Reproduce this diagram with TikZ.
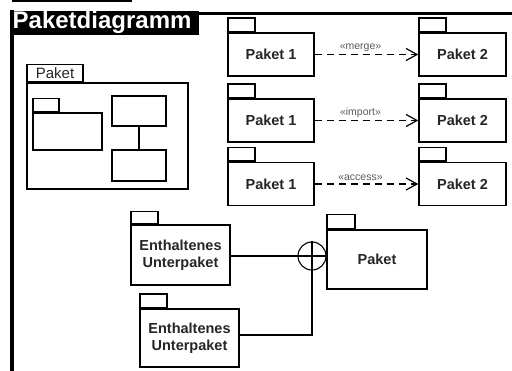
\documentclass[tikz,border=0pt]{standalone}
\usepackage{fontspec}
\setmainfont{Liberation Sans}
\usetikzlibrary{arrows.meta}
\begin{document}
\begin{tikzpicture}[x=1pt,y=-1pt,
  line width=1.4pt,
  body/.style={draw=black, fill=white, inner sep=0pt, font=\fontsize{14.5}{17}\selectfont\bfseries, text=black!85, align=center},
  tab/.style={draw=black, fill=white, inner sep=0pt, minimum width=27pt, minimum height=13.5pt, anchor=south west},
  dep/.style={dashed, dash pattern=on 7pt off 5pt, -{Straight Barb[length=11pt,width=12pt,line width=1.2pt]}},
  stereo/.style={font=\fontsize{10.5}{12}\selectfont, text=black!65, inner sep=1pt}
]
\useasboundingbox (0,0) rectangle (512,371);

% title bar and frame edges
\fill[black] (12,0) rectangle (132,2.2);
\node[fill=black, text=white, font=\fontsize{24}{26}\selectfont\bfseries, minimum width=188pt, minimum height=24pt, inner sep=0pt, anchor=north west, text width=184pt, align=left] (title) at (10,10) {Paketdiagramm};
\fill[black] (198,12) rectangle (512,15);
\fill[black] (10,10) rectangle (14,371);

% package with contents
\node[body, minimum width=161pt, minimum height=106pt] (outer) at (107.5,136) {};
\node[tab, minimum width=56pt, minimum height=17pt, font=\fontsize{15}{16}\selectfont, text=black!85] (outertab) at (outer.north west) {Paket};
\node[body, minimum width=69pt, minimum height=37pt] (inner) at (67.5,131.5) {};
\node[tab, minimum width=26pt, minimum height=13pt] (innertab) at (inner.north west) {};
\node[body, minimum width=54pt, minimum height=30pt] (boxa) at (139,111) {};
\node[body, minimum width=54pt, minimum height=31pt] (boxb) at (139,165.5) {};
\draw (boxa.south) -- (boxb.north);

% merge / import / access
\foreach \r/\y/\s in {1/54.5/merge, 2/120.5/import, 3/184/access}{
  \node[body, minimum width=86pt, minimum height=43pt] (src\r) at (271,\y) {Paket 1};
  \node[tab] (srctab\r) at (src\r.north west) {};
  \node[body, minimum width=87pt, minimum height=43pt] (dst\r) at (462.5,\y) {Paket 2};
  \node[tab] (dsttab\r) at (dst\r.north west) {};
  \draw[dep] (src\r.east) -- node[stereo, above=1.5pt, xshift=-6pt] {«\s»} (dst\r.west);
}

% containment
\node[body, minimum width=99pt, minimum height=60pt] (sub1) at (180.5,255) {Enthaltenes\\Unterpaket};
\node[tab, minimum height=12pt] (subtab1) at (sub1.north west) {};
\node[body, minimum width=99pt, minimum height=58pt] (sub2) at (189.5,338) {Enthaltenes\\Unterpaket};
\node[tab] (subtab2) at (sub2.north west) {};
\node[body, minimum width=100pt, minimum height=59pt] (owner) at (377,259.5) {Paket};
\node[tab, minimum width=28pt, minimum height=14pt] (ownertab) at (owner.north west) {};
\node[draw=black, circle, minimum size=28pt, inner sep=0pt, line width=1.1pt] (own) at (312,256) {};
\draw (sub1.east |- own) -- (own -| owner.west);
\draw (sub2.east |- 0,335) -| (own.north);
\end{tikzpicture}
\end{document}
